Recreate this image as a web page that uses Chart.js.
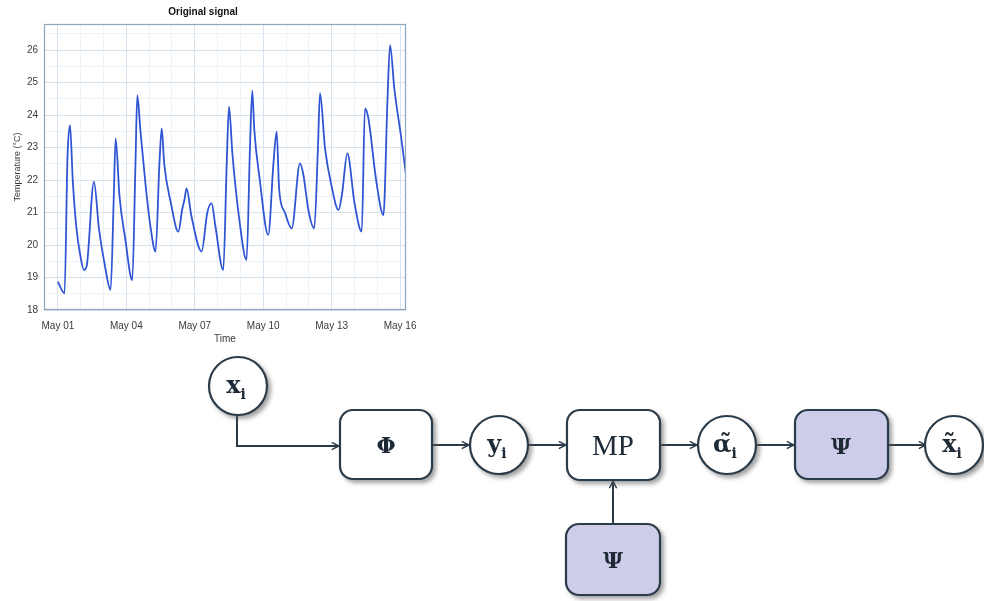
<!DOCTYPE html>
<html>
<head>
<meta charset="utf-8">
<script src="https://cdn.jsdelivr.net/npm/chart.js@4/dist/chart.umd.min.js"></script>
<style>
  html, body { margin: 0; padding: 0; background: #fff; }
  body { width: 984px; height: 601px; position: relative; overflow: hidden; }
  #wrap { position: absolute; left: 0; top: 0; width: 450px; height: 350px; }
  #diagram { position: absolute; left: 0; top: 0; }
</style>
</head>
<body>
<div id="wrap"><canvas id="c" width="450" height="350"></canvas></div>
<svg id="diagram" width="984" height="601" xmlns="http://www.w3.org/2000/svg">
  <defs>
    <filter id="sh" x="-20%" y="-20%" width="150%" height="150%">
      <feDropShadow dx="3" dy="3" stdDeviation="2" flood-color="#555" flood-opacity="0.55"/>
    </filter>
    <marker id="ah" viewBox="0 0 10 10" refX="9" refY="5" markerWidth="9" markerHeight="9" markerUnits="userSpaceOnUse" orient="auto">
      <path d="M1,1 L9,5 L1,9" fill="none" stroke="#2b3a48" stroke-width="1.6"/>
    </marker>
  </defs>
  <g stroke="#2b3a48" stroke-width="2" fill="none">
    <path d="M237,415 V446 H339" marker-end="url(#ah)"/>
    <path d="M432,445 H469" marker-end="url(#ah)"/>
    <path d="M528,445 H566" marker-end="url(#ah)"/>
    <path d="M660,445 H697" marker-end="url(#ah)"/>
    <path d="M757,445 H794" marker-end="url(#ah)"/>
    <path d="M888,445 H926" marker-end="url(#ah)"/>
    <path d="M613,523 V481" marker-end="url(#ah)"/>
  </g>
  <g stroke="#2b3a48" stroke-width="2.2" filter="url(#sh)">
    <circle cx="238" cy="386" r="29" fill="#fff"/>
    <rect x="340" y="410" width="92" height="69" rx="13" fill="#fff"/>
    <circle cx="499" cy="445" r="29" fill="#fff"/>
    <rect x="567" y="410" width="93" height="70" rx="13" fill="#fff"/>
    <circle cx="727" cy="445" r="29" fill="#fff"/>
    <rect x="795" y="410" width="93" height="69" rx="13" fill="#cdcdea"/>
    <circle cx="954" cy="445" r="29" fill="#fff"/>
    <rect x="566" y="524" width="94" height="71" rx="13" fill="#cdcdea"/>
  </g>
  <g font-family="'DejaVu Serif', 'Liberation Serif', serif" fill="#1e2a35" text-anchor="middle">
    <text x="236" y="393" font-size="24" font-weight="bold">x<tspan font-size="14" dy="6">i</tspan></text>
    <text x="386" y="453" font-size="22" font-weight="bold">Φ</text>
    <text x="497" y="452" font-size="24" font-weight="bold">y<tspan font-size="14" dy="6">i</tspan></text>
    <text x="613" y="455" font-size="29" font-family="'Liberation Serif', serif">MP</text>
    <text x="725" y="452" font-size="24" font-weight="bold">α̃<tspan font-size="14" dy="6">i</tspan></text>
    <text x="841" y="454" font-size="22" font-weight="bold">Ψ</text>
    <text x="952" y="452" font-size="24" font-weight="bold">x̃<tspan font-size="14" dy="6">i</tspan></text>
    <text x="613" y="568" font-size="22" font-weight="bold">Ψ</text>
  </g>
</svg>
<script>
// ---- data (days since May 01, temperature in °C) ----
const timeDays = [
  0.00, 0.29, 0.42, 0.53, 0.65, 0.80, 1.00, 1.14, 1.26, 1.58,
  1.80, 2.05, 2.31, 2.45, 2.53, 2.70, 2.95, 3.26, 3.40, 3.48,
  3.62, 3.85, 4.05, 4.28, 4.45, 4.55, 4.66, 4.95, 5.28, 5.45,
  5.55, 5.64, 5.85, 6.30, 6.55, 6.74, 6.90, 7.25, 7.40, 7.50,
  7.65, 7.95, 8.27, 8.42, 8.52, 8.61, 8.85, 9.22, 9.45, 9.59,
  9.70, 9.95, 10.25, 10.61, 10.75, 11.00, 11.24, 11.40, 11.49, 11.71,
  12.00, 12.30, 12.45, 12.69, 13.00, 13.32, 13.46, 13.61, 13.95, 14.27,
  14.45, 14.56, 14.75, 15.05, 15.29
];
const tempValues = [
  18.87, 18.51, 22.70, 23.69, 22.00, 20.60, 19.60, 19.23, 19.35, 21.95,
  20.50, 19.40, 18.62, 21.50, 23.28, 21.50, 20.20, 18.92, 22.50, 24.60,
  23.50, 21.80, 20.60, 19.80, 22.50, 23.59, 22.50, 21.30, 20.41, 21.10,
  21.40, 21.74, 20.90, 19.80, 21.00, 21.28, 20.60, 19.23, 22.50, 24.26,
  22.80, 20.80, 19.54, 23.00, 24.75, 23.54, 22.00, 20.31, 22.52, 23.49,
  21.70, 21.00, 20.51, 22.51, 22.20, 21.00, 20.51, 23.00, 24.67, 22.97,
  21.80, 21.08, 21.54, 22.82, 21.30, 20.41, 24.20, 23.90, 22.00, 20.92,
  24.50, 26.15, 24.80, 23.30, 22.00
];
const xTickDays = [0, 3, 6, 9, 12, 15];
const xTickLabels = ['May 01', 'May 04', 'May 07', 'May 10', 'May 13', 'May 16'];
const yTickValues = [18, 19, 20, 21, 22, 23, 24, 25, 26];

const points = timeDays.map((d, i) => ({ x: d, y: tempValues[i] }));

const boxPlugin = {
  id: 'box',
  afterDraw(chart) {
    const a = chart.chartArea, ctx = chart.ctx;
    ctx.save();
    ctx.strokeStyle = '#8ea6bd';
    ctx.lineWidth = 1.2;
    ctx.strokeRect(a.left + 0.5, a.top + 0.5, a.right - a.left - 1, a.bottom - a.top - 1);
    ctx.restore();
  }
};

new Chart(document.getElementById('c'), {
  type: 'line',
  data: {
    datasets: [{
      data: points,
      borderColor: '#2f55d4',
      borderWidth: 1.8,
      pointRadius: 0,
      fill: false,
      cubicInterpolationMode: 'monotone'
    }]
  },
  options: {
    responsive: false,
    animation: false,
    layout: { padding: { left: 0, right: 44, top: 0, bottom: 0 } },
    plugins: {
      legend: { display: false },
      tooltip: { enabled: false },
      title: {
        display: true,
        text: 'Original signal',
        color: '#111',
        font: { family: 'Liberation Sans, Arial, sans-serif', size: 10, weight: 'bold' },
        padding: { top: 6, bottom: 6 }
      }
    },
    scales: {
      x: {
        type: 'linear',
        min: -0.61,
        max: 15.26,
        afterBuildTicks(scale) {
          const t = [];
          for (let d = 0; d <= 15; d++) t.push({ value: d });
          scale.ticks = t;
        },
        afterFit(scale) { scale.height = 40; },
        ticks: {
          autoSkip: false,
          maxRotation: 0,
          color: '#3a3a3a',
          padding: 10,
          font: { family: 'Liberation Sans, Arial, sans-serif', size: 10 },
          callback(v) {
            const k = xTickDays.indexOf(v);
            return k >= 0 ? xTickLabels[k] : '';
          }
        },
        grid: {
          drawTicks: false,
          color(ctx) {
            const v = ctx.tick ? ctx.tick.value : 0;
            return xTickDays.includes(v) ? '#d6e2ee' : '#edf2f7';
          },
          lineWidth: 1
        },
        border: { display: false },
        title: {
          display: true,
          text: 'Time',
          color: '#3a3a3a',
          font: { family: 'Liberation Sans, Arial, sans-serif', size: 10 },
          padding: { top: 0, bottom: 5 }
        }
      },
      y: {
        min: 18,
        max: 26.8,
        afterBuildTicks(scale) {
          const t = [];
          for (let v = 18; v <= 26.5; v += 0.5) t.push({ value: v });
          scale.ticks = t;
        },
        afterFit(scale) { scale.width = 44; },
        ticks: {
          autoSkip: false,
          color: '#3a3a3a',
          padding: 6,
          font: { family: 'Liberation Sans, Arial, sans-serif', size: 10 },
          callback(v) { return yTickValues.includes(v) ? String(v) : ''; }
        },
        grid: {
          drawTicks: false,
          color(ctx) {
            const v = ctx.tick ? ctx.tick.value : 0;
            return yTickValues.includes(v) ? '#d6e2ee' : '#edf2f7';
          },
          lineWidth: 1
        },
        border: { display: false },
        title: {
          display: true,
          text: 'Temperature (°C)',
          color: '#3a3a3a',
          font: { family: 'Liberation Sans, Arial, sans-serif', size: 9 },
          padding: { top: 12, bottom: 2 }
        }
      }
    }
  },
  plugins: [boxPlugin]
});
</script>
</body>
</html>
